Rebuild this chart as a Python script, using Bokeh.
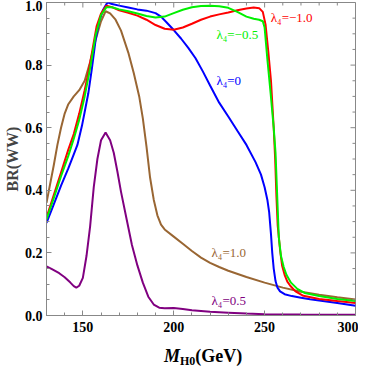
import math
from bokeh.plotting import figure
from bokeh.models import Range1d, SingleIntervalTicker, Label, Div, NumeralTickFormatter
from bokeh.layouts import column
from bokeh.embed import file_html
from bokeh.resources import INLINE

# ---- data ----
x_red = [130, 134, 138, 142, 145, 148, 151, 153, 155, 157.6, 160, 163, 166, 170, 175, 180, 185, 190, 195, 200,
         205, 210, 215, 220, 225, 230, 235, 240, 244, 247, 249, 250.5, 252, 253.5, 255, 255.8, 256.5, 257.2,
         258.5, 259.6, 261, 262.5, 264.1, 267, 271.3, 280, 290, 300]
y_red = [0.313, 0.385, 0.457, 0.53, 0.58, 0.645, 0.72, 0.775, 0.84, 0.925, 0.965, 0.99, 0.985, 0.975, 0.967,
         0.958, 0.945, 0.928, 0.916, 0.913, 0.92, 0.932, 0.945, 0.955, 0.962, 0.968, 0.975, 0.981, 0.984, 0.982,
         0.97, 0.93, 0.845, 0.75, 0.6, 0.5, 0.38, 0.287, 0.21, 0.16, 0.13, 0.108, 0.095, 0.077, 0.063, 0.053,
         0.046, 0.040]

x_green = [130, 134, 138, 142, 145, 148, 151, 154, 157, 160, 163, 166, 170, 175, 180, 185, 190, 195, 200, 205,
           210, 215, 220, 225, 230, 235, 240, 244, 247, 249, 250, 251.5, 253.3, 255, 256, 256.8, 257.8, 259,
           260.5, 262, 264.5, 268, 272, 280, 290, 300]
y_green = [0.307, 0.375, 0.445, 0.51, 0.565, 0.625, 0.70, 0.79, 0.895, 0.96, 0.985, 0.985, 0.978, 0.972, 0.965,
           0.957, 0.952, 0.955, 0.966, 0.977, 0.985, 0.989, 0.99, 0.988, 0.983, 0.97, 0.955, 0.948, 0.945, 0.94,
           0.92, 0.82, 0.71, 0.6, 0.52, 0.4, 0.25, 0.19, 0.155, 0.13, 0.105, 0.085, 0.072, 0.062, 0.053, 0.046]

x_blue = [130, 134, 138, 142, 145, 147, 149.5, 151, 153, 155, 157, 159, 161, 163, 164, 166, 170, 175, 180, 185,
          190, 193, 196, 200, 204, 208, 212, 216, 220, 225, 230, 235, 240, 245, 248, 250, 251.5, 252.5, 253.5,
          254.2, 255, 256, 257, 258.5, 261, 265, 270, 275, 280, 290, 300]
y_blue = [0.296, 0.355, 0.415, 0.47, 0.515, 0.545, 0.606, 0.65, 0.71, 0.79, 0.88, 0.94, 0.975, 0.995, 1.0,
          0.995, 0.99, 0.984, 0.978, 0.974, 0.966, 0.955, 0.937, 0.912, 0.885, 0.855, 0.822, 0.78, 0.735, 0.68,
          0.636, 0.59, 0.545, 0.49, 0.45, 0.41, 0.37, 0.33, 0.26, 0.2, 0.15, 0.11, 0.09, 0.077, 0.068, 0.062,
          0.057, 0.052, 0.048, 0.04, 0.031]

x_brown = [130, 132, 134, 136, 138, 140, 142, 145, 148, 151, 154, 157, 160, 162.5, 165, 168, 171, 175, 178,
           181, 183, 185, 187, 189, 191, 193, 195, 200, 205, 210, 215, 220, 225, 230, 240, 250, 260, 270, 280,
           290, 300]
y_brown = [0.36, 0.42, 0.48, 0.545, 0.60, 0.645, 0.675, 0.70, 0.72, 0.75, 0.81, 0.88, 0.94, 0.972, 0.965,
           0.945, 0.91, 0.84, 0.775, 0.70, 0.63, 0.54, 0.44, 0.37, 0.32, 0.29, 0.275, 0.252, 0.229, 0.206, 0.185,
           0.168, 0.155, 0.143, 0.123, 0.105, 0.089, 0.076, 0.066, 0.058, 0.051]

x_purple = [130, 133, 137, 140, 143, 145, 146.4, 148, 150, 152, 154, 156, 158, 160, 162.5, 165, 167, 169, 171,
            174, 177, 180, 183, 186, 189, 192, 195, 200, 205, 210, 220, 230, 240, 250, 270, 300]
y_purple = [0.157, 0.148, 0.135, 0.122, 0.106, 0.094, 0.089, 0.095, 0.12, 0.19, 0.285, 0.41, 0.50, 0.56, 0.585,
            0.56, 0.52, 0.46, 0.395, 0.31, 0.225, 0.16, 0.105, 0.06, 0.035, 0.025, 0.023, 0.024, 0.021, 0.017,
            0.012, 0.009, 0.006, 0.004, 0.003, 0.002]

series_labels = ["λ₄=−1.0", "λ₄=−0.5", "λ₄=0", "λ₄=1.0", "λ₄=0.5"]
series_colors = ["#ff0000", "#00f000", "#0000ff", "#996633", "#800080"]
label_x = [253.4, 223.5, 223.5, 220.8, 220.8]
label_y = [0.952, 0.898, 0.751, 0.201, 0.048]

# tick positions (for the mirrored ticks on the top and right frame edges)
x_major_ticks = [150, 200, 250, 300]
x_minor_ticks = [140, 160, 170, 180, 190, 210, 220, 230, 240, 260, 270, 280, 290]
y_major_ticks = [0.2, 0.4, 0.6, 0.8]
y_minor_ticks = [0.05, 0.1, 0.15, 0.25, 0.3, 0.35, 0.45, 0.5, 0.55, 0.65, 0.7, 0.75, 0.85, 0.9, 0.95]

SERIF = "Liberation Serif"
FRAME = "#888888"

X0, X1 = 130, 300
Y0, Y1 = 0.0, 1.0

p = figure(width=358, height=338, output_backend="svg", toolbar_location=None,
           x_range=Range1d(X0, X1), y_range=Range1d(Y0, Y1),
           min_border_left=41, min_border_right=3, min_border_top=2, min_border_bottom=23)
p.xgrid.visible = False
p.ygrid.visible = False
p.outline_line_color = FRAME
p.outline_line_width = 1
p.background_fill_color = "white"
p.border_fill_color = "white"

xs_all = [x_red, x_green, x_blue, x_brown, x_purple]
ys_all = [y_red, y_green, y_blue, y_brown, y_purple]
for i in [3, 4, 2, 0, 1]:
    p.line(xs_all[i], ys_all[i], line_color=series_colors[i], line_width=2)

# mirrored inward ticks on top and right edges (half of each dash falls inside the frame)
p.scatter(x_major_ticks, [Y1] * len(x_major_ticks), marker="dash", angle=math.pi / 2, size=10,
          line_color=FRAME, line_width=1)
p.scatter(x_minor_ticks, [Y1] * len(x_minor_ticks), marker="dash", angle=math.pi / 2, size=6,
          line_color=FRAME, line_width=1)
p.scatter([X1] * len(y_major_ticks), y_major_ticks, marker="dash", size=10, line_color=FRAME, line_width=1)
p.scatter([X1] * len(y_minor_ticks), y_minor_ticks, marker="dash", size=6, line_color=FRAME, line_width=1)

for ax in (p.xaxis[0], p.yaxis[0]):
    ax.axis_line_color = FRAME
    ax.major_tick_line_color = FRAME
    ax.minor_tick_line_color = FRAME
    ax.major_tick_in = 5
    ax.major_tick_out = 0
    ax.minor_tick_in = 3
    ax.minor_tick_out = 0
    ax.major_label_text_font = SERIF
    ax.major_label_text_font_style = "bold"
    ax.major_label_text_color = "black"
    ax.major_label_text_font_size = "14px"

p.xaxis.ticker = SingleIntervalTicker(interval=50, num_minor_ticks=5)
p.yaxis.ticker = SingleIntervalTicker(interval=0.2, num_minor_ticks=4)
p.yaxis.formatter = NumeralTickFormatter(format="0.0")
p.xaxis.major_label_standoff = 6
p.yaxis.major_label_standoff = 4
p.yaxis.axis_label = "BR(WW)"
p.yaxis.axis_label_text_font = SERIF
p.yaxis.axis_label_text_font_style = "bold"
p.yaxis.axis_label_text_font_size = "16px"
p.yaxis.axis_label_standoff = 1

for t, c, lx, ly in zip(series_labels, series_colors, label_x, label_y):
    p.add_layout(Label(x=lx, y=ly, text=t, text_color=c, text_font=SERIF,
                       text_font_size="13px", text_baseline="middle", text_align="left"))

xtitle = Div(
    text=('<span style="font-family:\'Liberation Serif\';font-weight:bold;font-size:18px;color:black;'
          'white-space:nowrap;"><i>M</i><sub style="font-size:12px;vertical-align:-3px;">H0</sub>(GeV)</span>'),
    width=358, height=19,
    styles={"padding-left": "159px", "padding-top": "4px", "line-height": "19px", "overflow": "visible",
            "box-sizing": "border-box"})

layout = column(p, xtitle, spacing=0)
open("out.html", "w").write(file_html(layout, INLINE))
